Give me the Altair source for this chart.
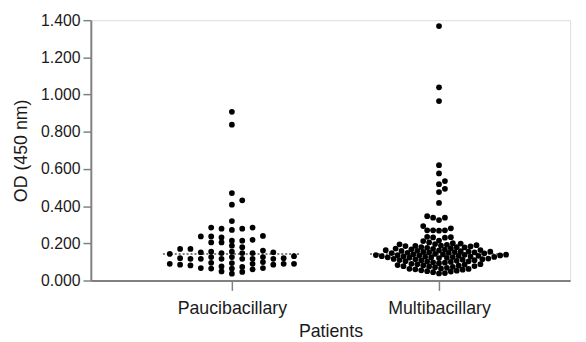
import altair as alt
import numpy as np
import pandas as pd

groups = ["Paucibacillary", "Multibacillary"]

pauci = [0.131,
         0.161, 0.117, 0.085,
         0.147, 0.094, 0.067,
         0.237, 0.126, 0.076,
         0.279, 0.232, 0.205, 0.179, 0.152, 0.117, 0.090, 0.067, 0.046,
         0.431, 0.285, 0.240, 0.205, 0.117, 0.090, 0.060,
         0.907, 0.838, 0.470, 0.408, 0.320, 0.285, 0.214, 0.170, 0.152, 0.126, 0.099, 0.073, 0.049,
         0.279, 0.214, 0.187, 0.170, 0.143, 0.117, 0.090, 0.064,
         0.272, 0.219, 0.155, 0.120, 0.095, 0.064, 0.037,
         0.237, 0.147, 0.117, 0.081,
         0.147, 0.120, 0.085,
         0.155, 0.117, 0.090,
         0.126]

multi = [1.368, 1.039, 0.965, 0.620, 0.576, 0.535, 0.518, 0.493, 0.476, 0.417,
         0.346, 0.338, 0.338, 0.325, 0.293, 0.281, 0.270, 0.270, 0.270, 0.268,
         0.235, 0.233, 0.232, 0.230,
         0.215, 0.212, 0.205,
         0.201, 0.199, 0.196, 0.195, 0.192, 0.190, 0.188,
         0.186, 0.183, 0.180, 0.178, 0.176, 0.174, 0.172, 0.170, 0.168, 0.166, 0.185, 0.179,
         0.164, 0.162, 0.160, 0.158, 0.156, 0.155, 0.153, 0.151, 0.150, 0.148, 0.147, 0.146,
         0.159, 0.154, 0.149, 0.163,
         0.143, 0.141, 0.140, 0.138, 0.137, 0.135, 0.134, 0.132, 0.131, 0.130, 0.129,
         0.128, 0.127, 0.126, 0.125, 0.124, 0.123, 0.122, 0.121, 0.139, 0.133, 0.136,
         0.118, 0.116, 0.114, 0.112, 0.110, 0.108, 0.106, 0.104, 0.102, 0.100, 0.098,
         0.096, 0.115, 0.109, 0.103,
         0.093, 0.090, 0.088, 0.085, 0.083, 0.080, 0.078, 0.076, 0.074, 0.072, 0.087,
         0.081, 0.077,
         0.068, 0.065, 0.062, 0.060, 0.058, 0.055, 0.053, 0.050, 0.048, 0.045, 0.063,
         0.040, 0.038]

y_ticks = [0.0, 0.2, 0.4, 0.6, 0.8, 1.0, 1.2, 1.4]

PLOT_W, PLOT_H = 486, 264
X_MIN, X_MAX = 0.319, 2.633
Y_MAX = 1.4
PX_X = PLOT_W / (X_MAX - X_MIN)
PX_Y = PLOT_H / Y_MAX


def swarm(values, step, dist):
    vals = np.asarray(values, dtype=float)
    order = np.argsort(vals, kind="stable")
    placed = []
    offs = np.zeros(len(vals))
    for k, i in enumerate(order):
        y = vals[i] * PX_Y
        cands = [0.0]
        for j in range(1, 300):
            if k % 2:
                cands += [j * step, -j * step]
            else:
                cands += [-j * step, j * step]
        chosen = 0.0
        for c in cands:
            if all((c - px) ** 2 + (y - py) ** 2 >= dist ** 2 for px, py in placed):
                chosen = c
                break
        placed.append((chosen, y))
        offs[i] = chosen
    return offs / PX_X


rows = []
meds = []
for gi, (name, vals, step, dist) in enumerate(
        [(groups[0], pauci, 10.5, 5.0), (groups[1], multi, 2.0, 5.2)]):
    offs = swarm(vals, step, dist)
    for v, o in zip(vals, offs):
        rows.append({"group": name, "gx": gi + 1 + o, "value": v})
    meds.append({"group": name, "x1": gi + 1 - 0.333, "x2": gi + 1 + 0.333,
                 "median": float(np.median(vals))})

df = pd.DataFrame(rows)
mdf = pd.DataFrame(meds)

label_expr = "datum.value == 1 ? '%s' : '%s'" % (groups[0], groups[1])

FONT = "Liberation Sans"
AX = "#808080"
TXT = "#1a1a1a"

xscale = alt.Scale(domain=[X_MIN, X_MAX], nice=False, zero=False)
yscale = alt.Scale(domain=[0, Y_MAX], nice=False, zero=True)

xaxis = alt.Axis(values=[1, 2], labelExpr=label_expr, title="Patients",
                 tickSize=10, labelPadding=9, titlePadding=6,
                 labelFontSize=18, titleFontSize=18, grid=False,
                 domainColor=AX, tickColor=AX, domainWidth=2, tickWidth=1.5,
                 labelColor=TXT, titleColor=TXT, labelFont=FONT, titleFont=FONT,
                 titleFontWeight="normal")
yaxis = alt.Axis(values=y_ticks, format=".3f", title="OD (450 nm)",
                 tickSize=8, labelPadding=3, titlePadding=10,
                 labelFontSize=16, titleFontSize=18, grid=False,
                 domainColor=AX, tickColor=AX, domainWidth=2, tickWidth=1.5,
                 labelColor=TXT, titleColor=TXT, labelFont=FONT, titleFont=FONT,
                 titleFontWeight="normal")

medians = alt.Chart(mdf).mark_rule(color="#555555", strokeWidth=1.5,
                                   strokeDash=[2, 2]).encode(
    x=alt.X("x1:Q", scale=xscale, axis=xaxis),
    x2="x2:Q",
    y=alt.Y("median:Q", scale=yscale, axis=yaxis),
)

dots = alt.Chart(df).mark_circle(size=34, color="black", opacity=1).encode(
    x=alt.X("gx:Q", scale=xscale, axis=xaxis),
    y=alt.Y("value:Q", scale=yscale, axis=yaxis),
)

chart = alt.layer(medians, dots).properties(
    width=PLOT_W, height=PLOT_H,
    padding={"left": 84, "top": 10, "right": 8, "bottom": 60},
    autosize=alt.AutoSizeParams(type="none"),
).configure_view(stroke=None).configure(background="white")

chart.save("out.html", embed_options={"renderer": "svg", "actions": False})
